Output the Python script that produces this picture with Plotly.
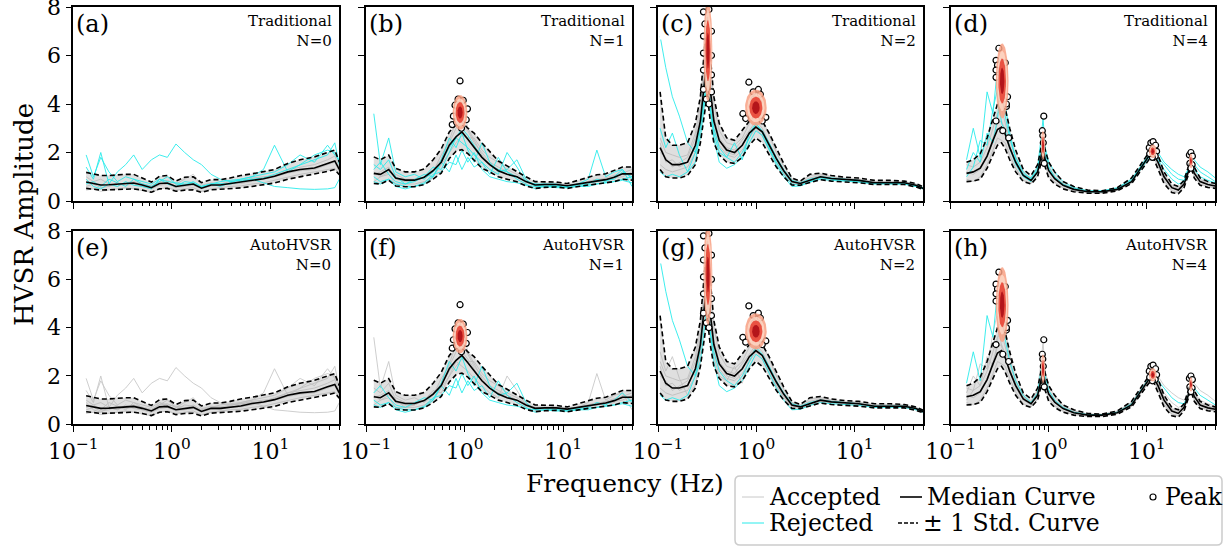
import numpy as np
import plotly.graph_objects as go

FONT = "DejaVu Serif"
W, H = 1228, 550

# ---------------- data ----------------
# Column A  (panels a / e)
fA = [0.135, 0.16, 0.19, 0.23, 0.28, 0.34, 0.41, 0.5, 0.62, 0.75, 0.9, 1.1, 1.35, 1.65, 2.0, 2.5, 3.1, 3.9, 5.0, 6.5, 8.5, 11, 15, 20, 28, 38, 45, 50]
medA = [0.78, 0.72, 0.66, 0.67, 0.70, 0.72, 0.74, 0.66, 0.55, 0.72, 0.74, 0.60, 0.66, 0.70, 0.53, 0.66, 0.66, 0.72, 0.76, 0.86, 0.92, 1.02, 1.2, 1.3, 1.36, 1.55, 1.65, 1.3]
upA = [1.18, 1.1, 1.05, 1.05, 1.08, 1.1, 1.1, 0.95, 0.78, 1.02, 1.05, 0.82, 0.98, 1.0, 0.76, 0.88, 0.88, 0.95, 1.05, 1.12, 1.2, 1.3, 1.55, 1.7, 1.82, 2.0, 2.1, 1.6]
loA = [0.52, 0.48, 0.45, 0.46, 0.48, 0.5, 0.5, 0.45, 0.36, 0.5, 0.52, 0.4, 0.45, 0.46, 0.35, 0.46, 0.48, 0.52, 0.54, 0.6, 0.68, 0.74, 0.9, 1.0, 1.1, 1.22, 1.3, 1.08]
wA1 = [1.4, 0.9, 2.0, 0.7, 1.2, 1.5, 1.9, 1.3, 1.7, 1.9, 1.8, 2.35, 2.0, 1.7, 1.5, 1.1, 0.9, 0.8, 0.85, 0.9, 0.95, 1.1, 1.3, 1.5, 1.7, 1.9, 2.4, 1.5]
wA2 = [0.9, 0.6, 0.5, 0.7, 0.6, 0.8, 0.65, 0.6, 0.5, 0.9, 0.7, 0.6, 0.8, 0.75, 0.55, 0.7, 0.72, 0.7, 0.8, 0.9, 0.75, 0.6, 0.55, 0.5, 0.48, 0.5, 0.55, 0.9]
wA3 = [0.7, 0.8, 0.6, 0.9, 0.75, 0.6, 0.9, 0.7, 0.6, 0.8, 1.0, 0.7, 0.65, 0.8, 0.6, 0.7, 0.6, 0.75, 0.9, 1.0, 1.3, 2.3, 1.2, 1.5, 1.9, 2.1, 2.0, 1.6]
wA4 = [0.6, 0.7, 0.55, 0.6, 0.75, 0.65, 0.7, 0.6, 0.5, 0.65, 0.7, 0.55, 0.6, 0.65, 0.5, 0.62, 0.65, 0.7, 0.72, 0.8, 0.9, 1.0, 1.15, 1.25, 1.3, 1.5, 1.6, 1.2]
wA5 = [1.0, 0.8, 0.9, 0.7, 0.6, 0.75, 0.8, 0.7, 0.62, 0.8, 0.85, 0.7, 0.9, 1.1, 0.65, 0.75, 0.7, 0.8, 0.85, 0.95, 1.0, 1.05, 1.3, 1.4, 1.5, 1.7, 1.85, 1.4]
wA6 = [0.45, 0.5, 0.4, 0.45, 0.5, 0.55, 0.5, 0.42, 0.35, 0.5, 0.55, 0.45, 0.5, 0.55, 0.4, 0.5, 0.55, 0.6, 0.62, 0.7, 0.75, 0.85, 1.0, 1.1, 1.2, 1.3, 1.35, 1.1]
wA7 = [1.9, 1.0, 1.8, 1.2, 0.8, 1.0, 0.9, 0.8, 0.7, 0.9, 0.8, 0.75, 0.7, 0.7, 0.6, 0.7, 0.8, 0.85, 0.9, 1.0, 1.1, 1.2, 1.5, 1.9, 1.6, 2.3, 1.9, 1.7]

# Column B  (panels b / f)
fB = [0.12, 0.14, 0.17, 0.2, 0.25, 0.31, 0.39, 0.48, 0.58, 0.7, 0.82, 0.94, 1.08, 1.25, 1.5, 1.8, 2.2, 2.7, 3.4, 4.2, 5.2, 6.5, 8.5, 11, 14, 18, 22, 27, 33, 40, 50]
medB = [1.14, 1.1, 1.3, 0.95, 0.86, 0.86, 0.98, 1.25, 1.6, 2.3, 2.65, 2.85, 2.55, 2.2, 1.8, 1.5, 1.25, 1.1, 1.0, 0.8, 0.66, 0.68, 0.68, 0.63, 0.7, 0.78, 0.85, 0.88, 0.98, 1.12, 1.12]
upB = [1.82, 1.7, 1.89, 1.35, 1.2, 1.2, 1.32, 1.7, 2.15, 2.85, 3.15, 3.26, 3.0, 2.8, 2.4, 2.05, 1.65, 1.45, 1.2, 1.0, 0.8, 0.8, 0.78, 0.72, 0.85, 0.98, 1.08, 1.12, 1.25, 1.4, 1.4]
loB = [0.72, 0.7, 0.86, 0.62, 0.59, 0.59, 0.68, 0.9, 1.15, 1.75, 2.05, 2.12, 1.95, 1.7, 1.35, 1.2, 1.0, 0.9, 0.79, 0.62, 0.52, 0.56, 0.58, 0.52, 0.6, 0.66, 0.7, 0.75, 0.8, 0.9, 0.86]
wB1 = [3.6, 1.5, 2.6, 1.2, 1.0, 1.1, 0.9, 1.2, 1.6, 2.2, 2.6, 3.0, 2.7, 2.3, 1.8, 1.5, 1.3, 1.2, 1.0, 0.8, 0.7, 0.7, 0.7, 0.6, 0.7, 0.9, 2.1, 1.0, 1.2, 1.3, 0.6]
wB2 = [1.0, 0.8, 0.9, 0.6, 0.5, 0.6, 0.7, 1.0, 1.6, 1.2, 1.9, 1.3, 1.8, 1.4, 1.6, 1.1, 1.8, 1.2, 0.9, 0.7, 0.5, 0.6, 0.55, 0.55, 0.6, 0.6, 0.7, 0.75, 0.8, 0.9, 1.0]
wB3 = [1.3, 1.6, 1.1, 0.8, 0.7, 0.9, 1.1, 1.0, 1.7, 2.6, 2.2, 2.8, 2.1, 1.6, 2.4, 1.6, 1.2, 1.3, 1.7, 0.9, 0.6, 0.7, 0.6, 0.6, 0.65, 0.7, 0.9, 0.8, 1.0, 1.3, 0.9]
wB4 = [1.1, 1.2, 1.4, 0.9, 0.8, 0.8, 1.0, 1.3, 1.7, 2.5, 3.3, 4.1, 3.0, 2.5, 1.9, 1.5, 1.3, 1.1, 1.0, 0.8, 0.65, 0.7, 0.7, 0.65, 0.7, 0.8, 0.9, 0.9, 1.0, 1.1, 1.1]
wB5 = [0.8, 1.0, 1.1, 0.7, 0.7, 0.7, 0.8, 1.0, 1.5, 2.0, 2.4, 2.7, 2.6, 2.6, 2.1, 1.8, 1.6, 1.3, 1.1, 0.85, 0.65, 0.65, 0.65, 0.6, 0.68, 0.75, 0.8, 0.85, 0.95, 1.0, 1.2]
wB6 = [1.5, 1.3, 1.7, 1.0, 0.7, 0.8, 1.0, 1.4, 1.3, 2.0, 2.6, 2.4, 2.2, 1.9, 1.6, 1.3, 1.1, 2.0, 1.4, 0.8, 0.7, 0.62, 0.65, 0.6, 0.7, 0.75, 0.8, 0.85, 0.9, 1.2, 1.0]
wB7 = [1.2, 1.0, 1.2, 1.1, 0.9, 0.9, 1.0, 1.2, 1.9, 2.4, 3.0, 3.4, 2.9, 2.4, 2.0, 1.6, 1.4, 1.2, 1.0, 0.75, 0.7, 0.7, 0.7, 0.62, 0.72, 0.8, 0.85, 0.95, 1.05, 1.15, 1.3]
wB8 = [0.8, 0.7, 0.9, 0.7, 0.6, 0.6, 0.75, 1.1, 1.2, 1.6, 1.5, 2.1, 1.6, 2.0, 1.3, 1.0, 0.9, 0.8, 0.75, 0.65, 0.6, 0.6, 0.6, 0.55, 0.6, 0.65, 0.7, 0.75, 0.8, 0.85, 0.75]

# Column C  (panels c / g)
fC = [0.105, 0.12, 0.14, 0.165, 0.2, 0.24, 0.27, 0.295, 0.317, 0.34, 0.37, 0.42, 0.5, 0.6, 0.72, 0.85, 0.99, 1.15, 1.35, 1.6, 1.9, 2.3, 2.8, 3.5, 4.5, 5.8, 8, 11, 16, 23, 32, 42, 50]
medC = [2.2, 1.7, 1.5, 1.5, 1.6, 2.3, 3.3, 4.8, 6.0, 4.6, 3.3, 2.5, 2.1, 2.0, 2.3, 2.8, 3.05, 2.85, 2.3, 1.75, 1.25, 0.8, 0.72, 0.85, 1.0, 0.93, 0.88, 0.85, 0.75, 0.75, 0.75, 0.65, 0.52]
upC = [4.5, 2.6, 2.3, 2.3, 2.4, 3.2, 4.3, 6.2, 7.6, 6.0, 4.3, 3.2, 2.6, 2.5, 2.9, 3.3, 3.55, 3.3, 2.8, 2.15, 1.55, 0.95, 0.82, 1.1, 1.15, 1.05, 0.98, 0.95, 0.85, 0.85, 0.82, 0.72, 0.58]
loC = [1.3, 1.0, 0.95, 0.95, 1.05, 1.5, 2.4, 3.4, 4.4, 3.3, 2.4, 1.9, 1.6, 1.55, 1.8, 2.3, 2.6, 2.4, 1.9, 1.4, 1.0, 0.66, 0.65, 0.75, 0.88, 0.82, 0.8, 0.75, 0.68, 0.68, 0.68, 0.58, 0.47]
wC1 = [6.8, 5.5, 4.3, 3.5, 2.4, 2.0, 2.6, 4.0, 5.0, 3.8, 3.0, 2.2, 1.8, 1.6, 2.0, 2.6, 3.2, 2.9, 2.4, 1.8, 1.3, 0.85, 0.75, 0.9, 1.0, 0.95, 0.9, 0.85, 0.75, 0.75, 0.75, 0.65, 0.55]
wC2 = [3.0, 2.2, 2.8, 1.9, 1.2, 1.6, 3.0, 4.2, 5.5, 4.0, 2.8, 2.0, 1.8, 2.4, 1.7, 2.8, 3.2, 2.8, 2.2, 1.6, 1.1, 0.7, 0.65, 0.8, 0.95, 0.9, 0.85, 0.8, 0.72, 0.72, 0.7, 0.6, 0.5]
wC3 = [2.0, 1.8, 1.4, 1.6, 1.8, 2.6, 3.6, 5.5, 7.2, 5.0, 3.5, 2.6, 2.2, 2.1, 2.5, 2.9, 3.3, 3.0, 2.4, 1.8, 1.3, 0.85, 0.78, 0.95, 1.05, 0.95, 0.9, 0.85, 0.78, 0.78, 0.77, 0.66, 0.52]
wC4 = [1.5, 1.3, 1.2, 1.3, 1.4, 2.0, 3.0, 4.5, 5.8, 4.4, 3.0, 2.3, 1.9, 1.8, 2.1, 2.6, 3.0, 2.7, 2.1, 1.6, 1.15, 0.75, 0.7, 0.82, 0.98, 0.9, 0.86, 0.83, 0.74, 0.74, 0.74, 0.64, 0.52]
wC5 = [2.6, 2.0, 1.9, 1.8, 1.9, 2.8, 3.9, 6.0, 7.8, 6.2, 4.0, 2.9, 2.4, 2.3, 2.6, 3.2, 3.6, 3.4, 2.7, 2.0, 1.45, 0.9, 0.8, 1.05, 1.1, 1.0, 0.92, 0.9, 0.8, 0.8, 0.8, 0.7, 0.55]
wC6 = [2.4, 1.6, 1.7, 1.4, 1.6, 2.2, 3.1, 4.6, 6.3, 4.8, 3.4, 2.5, 2.0, 1.9, 2.3, 2.8, 3.1, 2.9, 2.3, 1.7, 1.25, 0.8, 0.72, 0.88, 1.0, 0.92, 0.88, 0.85, 0.76, 0.76, 0.75, 0.65, 0.52]
wC7 = [1.2, 1.0, 1.1, 1.0, 1.2, 2.0, 3.2, 4.6, 6.0, 3.8, 2.6, 1.6, 1.35, 1.5, 1.8, 2.4, 2.9, 2.7, 2.1, 1.5, 1.0, 0.6, 0.62, 0.78, 0.9, 0.85, 0.82, 0.78, 0.7, 0.7, 0.7, 0.6, 0.5]

# Column D  (panels d / h)
fD = [0.145, 0.17, 0.2, 0.235, 0.27, 0.3, 0.33, 0.36, 0.4, 0.46, 0.55, 0.66, 0.77, 0.83, 0.875, 0.92, 1.0, 1.15, 1.4, 1.8, 2.5, 3.5, 5, 7, 9, 10.5, 11.6, 13, 15, 18, 21, 24, 26.5, 28.2, 30.5, 35, 42, 50]
medD = [1.14, 1.2, 1.35, 1.85, 2.5, 2.95, 3.05, 2.75, 2.2, 1.6, 1.05, 0.85, 1.2, 1.8, 2.2, 1.7, 1.25, 0.92, 0.65, 0.48, 0.38, 0.38, 0.48, 0.8, 1.45, 1.85, 1.96, 1.6, 1.0, 0.55, 0.45, 0.7, 1.2, 1.55, 1.15, 0.8, 0.68, 0.62]
upD = [1.6, 1.7, 1.95, 2.6, 3.4, 4.0, 4.2, 3.8, 3.0, 2.1, 1.3, 1.05, 1.5, 2.2, 2.6, 2.1, 1.6, 1.2, 0.8, 0.6, 0.45, 0.42, 0.55, 0.95, 1.6, 2.0, 2.15, 1.9, 1.2, 0.7, 0.6, 0.85, 1.4, 1.8, 1.4, 0.95, 0.8, 0.72]
loD = [0.8, 0.82, 0.9, 1.35, 1.9, 2.3, 2.4, 2.15, 1.7, 1.2, 0.8, 0.7, 1.0, 1.5, 1.9, 1.4, 0.95, 0.7, 0.5, 0.38, 0.32, 0.32, 0.42, 0.72, 1.3, 1.7, 1.8, 1.35, 0.72, 0.35, 0.3, 0.55, 1.05, 1.4, 0.95, 0.65, 0.56, 0.52]
wD1 = [1.7, 3.0, 1.8, 4.5, 3.6, 5.5, 4.8, 3.5, 2.6, 1.8, 1.2, 0.9, 1.3, 2.2, 2.8, 2.0, 1.4, 1.0, 0.7, 0.5, 0.4, 0.4, 0.5, 0.85, 1.5, 1.9, 2.1, 1.8, 1.5, 1.1, 0.9, 0.85, 1.2, 1.8, 1.5, 1.2, 1.0, 0.8]
wD2 = [1.0, 1.4, 2.5, 2.3, 3.8, 4.6, 3.2, 2.9, 2.2, 1.5, 1.0, 0.8, 1.2, 1.9, 2.4, 1.8, 1.3, 0.95, 0.65, 0.5, 0.38, 0.38, 0.5, 0.8, 1.4, 1.8, 2.0, 1.7, 1.3, 0.9, 0.7, 0.8, 1.3, 1.7, 1.3, 1.0, 0.85, 0.75]
wD3 = [1.2, 1.1, 1.3, 1.8, 2.6, 3.2, 3.3, 2.9, 2.3, 1.6, 1.05, 0.85, 1.2, 1.8, 2.3, 1.7, 1.25, 0.9, 0.65, 0.48, 0.38, 0.38, 0.48, 0.8, 1.45, 1.85, 2.0, 1.6, 1.0, 0.55, 0.45, 0.7, 1.2, 1.6, 1.15, 0.8, 0.68, 0.62]
wD4 = [1.5, 1.4, 1.6, 2.2, 3.0, 3.6, 3.8, 3.2, 2.5, 1.8, 1.15, 0.9, 1.3, 2.0, 2.6, 1.9, 1.4, 1.0, 0.72, 0.52, 0.4, 0.4, 0.52, 0.88, 1.55, 1.95, 2.1, 1.75, 1.1, 0.62, 0.52, 0.78, 1.3, 1.75, 1.25, 0.88, 0.75, 0.68]
wD5 = [0.9, 0.8, 1.0, 1.5, 2.1, 2.6, 2.5, 2.4, 1.9, 1.35, 0.85, 0.72, 1.05, 1.6, 2.0, 1.5, 1.05, 0.78, 0.55, 0.4, 0.33, 0.33, 0.44, 0.74, 1.35, 1.75, 1.85, 1.45, 0.85, 0.42, 0.35, 0.6, 1.1, 1.45, 1.0, 0.7, 0.6, 0.55]
wD6 = [1.3, 2.0, 1.6, 2.8, 2.4, 3.4, 5.0, 4.0, 2.8, 1.7, 1.1, 0.95, 1.4, 2.5, 3.4, 2.2, 1.6, 1.2, 0.8, 0.55, 0.42, 0.42, 0.55, 0.9, 1.5, 1.9, 2.2, 2.0, 1.6, 1.3, 1.1, 1.0, 1.3, 1.9, 1.7, 1.4, 1.2, 0.95]

# Peak picks (frequency, amplitude)
pkB_f = [0.90, 0.77, 0.75, 0.80, 0.86, 0.97, 1.07, 1.04, 0.90, 0.92, 0.88, 0.95, 0.83, 0.93, 0.89]
pkB_a = [4.95, 3.5, 3.15, 3.95, 4.2, 4.15, 3.8, 3.35, 3.4, 3.7, 3.65, 3.55, 3.25, 3.0, 3.9]
pkC_f = [0.29, 0.33, 0.29, 0.29, 0.35, 0.29, 0.35, 0.29, 0.35, 0.31, 0.33, 0.30, 0.35,
         0.84, 0.93, 1.05, 1.10, 0.95, 1.0, 0.97, 1.02, 0.73, 0.78, 1.25, 1.15, 0.90, 1.05]
pkC_a = [7.8, 7.9, 6.8, 6.1, 6.0, 5.4, 5.2, 4.6, 4.5, 4.2, 4.0, 7.3, 7.0,
         4.9, 4.5, 4.6, 4.4, 4.2, 4.0, 3.85, 3.7, 3.6, 3.4, 3.45, 3.3, 3.9, 4.1]
pkD_f = [0.31, 0.29, 0.30, 0.36, 0.29, 0.29, 0.38, 0.37, 0.29, 0.34, 0.39, 0.37,
         0.89, 0.86, 0.88, 0.90, 0.87,
         10.6, 11.0, 11.6, 12.3, 12.6, 12.2, 11.4, 10.7, 11.3,
         27.2, 28.2, 29.2, 27.5, 29.0, 28.2]
pkD_a = [6.3, 5.8, 5.6, 5.7, 5.4, 5.1, 4.3, 3.9, 3.3, 2.9, 2.6, 4.0,
         3.5, 2.9, 2.4, 1.55, 2.7,
         2.2, 2.4, 2.45, 2.3, 2.05, 1.85, 1.8, 1.95, 2.1,
         1.9, 2.0, 1.85, 1.55, 1.5, 1.35]

# Peak density ellipses: centre freq, centre amp, half-width (log10 f), half-height (amp)
ellB = dict(fc=[0.9], ac=[3.65], wl=[0.075], ha=[0.72])
ellC = dict(fc=[0.322, 0.99], ac=[6.2, 3.85], wl=[0.045, 0.11], ha=[2.1, 0.75])
ellD = dict(fc=[0.335, 0.875, 11.5, 28.2], ac=[4.95, 2.3, 2.05, 1.65], wl=[0.065, 0.022, 0.04, 0.02], ha=[1.55, 0.6, 0.28, 0.3])
ell_levels = [1.0, 0.8, 0.6, 0.35]

x_tick_vals = [0.1, 1, 10]
x_tick_text = ["10<sup>−1</sup>", "10<sup>0</sup>", "10<sup>1</sup>"]
y_tick_vals = [0, 2, 4, 6, 8]

columns = [
    dict(f=fA, med=medA, up=upA, lo=loA, wins=[wA1, wA2, wA3, wA4, wA5, wA6, wA7],
         rej_trad=[0, 1, 2, 6], rej_auto=[], N=0, pf=[], pa=[], ell=None),
    dict(f=fB, med=medB, up=upB, lo=loB, wins=[wB1, wB2, wB3, wB4, wB5, wB6, wB7, wB8],
         rej_trad=[0, 1, 2, 5, 7], rej_auto=[1, 2, 7], N=1, pf=pkB_f, pa=pkB_a, ell=ellB),
    dict(f=fC, med=medC, up=upC, lo=loC, wins=[wC1, wC2, wC3, wC4, wC5, wC6, wC7],
         rej_trad=[0, 1, 6], rej_auto=[0, 6], N=2, pf=pkC_f, pa=pkC_a, ell=ellC),
    dict(f=fD, med=medD, up=upD, lo=loD, wins=[wD1, wD2, wD3, wD4, wD5, wD6],
         rej_trad=[0, 1, 5], rej_auto=[0], N=4, pf=pkD_f, pa=pkD_a, ell=ellD),
]
labels = ["(a)", "(b)", "(c)", "(d)", "(e)", "(f)", "(g)", "(h)"]
methods = ["Traditional", "AutoHVSR"]

# ---------------- layout geometry (pixels) ----------------
col_px = [(73.3, 339.3), (366.0, 632.0), (658.0, 923.3), (950.7, 1215.3)]
row_px = [(7.0, 201.0), (231.0, 424.3)]


def px(x):
    return x / W


def py(y):
    return 1 - y / H


fig = go.Figure()
layout = dict(template="none", width=W, height=H, margin=dict(l=0, r=0, t=0, b=0, autoexpand=False),
              paper_bgcolor="white", plot_bgcolor="white", showlegend=False,
              font=dict(family=FONT, color="black"))
annotations = []
shapes = []

minor_vals = [v * d for d in (0.1, 1, 10) for v in range(2, 10)]
ell_colors = ["rgba(248,160,130,0.85)", "rgba(253,225,210,0.7)", "rgba(230,60,45,0.85)", "rgba(170,10,20,0.85)"]

for r in range(2):
    for c in range(4):
        i = r * 4 + c
        ax = i + 1
        xa = "x" if ax == 1 else f"x{ax}"
        ya = "y" if ax == 1 else f"y{ax}"
        col = columns[c]
        f = col["f"]
        rej = col["rej_trad"] if r == 0 else col["rej_auto"]
        # accepted windows
        for k, wv in enumerate(col["wins"]):
            if k in rej:
                continue
            fig.add_trace(go.Scatter(x=f, y=wv, mode="lines", xaxis=xa, yaxis=ya,
                                     line=dict(color="rgb(200,200,200)", width=0.9), hoverinfo="skip"))
        # density band of accepted windows
        fig.add_trace(go.Scatter(x=f, y=col["lo"], mode="lines", xaxis=xa, yaxis=ya,
                                 line=dict(width=0), hoverinfo="skip"))
        fig.add_trace(go.Scatter(x=f, y=col["up"], mode="lines", xaxis=xa, yaxis=ya, fill="tonexty",
                                 fillcolor="rgba(175,175,175,0.4)", line=dict(width=0), hoverinfo="skip"))
        # rejected windows
        for k in rej:
            fig.add_trace(go.Scatter(x=f, y=col["wins"][k], mode="lines", xaxis=xa, yaxis=ya,
                                     line=dict(color="rgb(40,235,235)", width=0.9), hoverinfo="skip"))
        # median and std curves
        fig.add_trace(go.Scatter(x=f, y=col["med"], mode="lines", xaxis=xa, yaxis=ya,
                                 line=dict(color="black", width=1.6), hoverinfo="skip"))
        for arr in (col["up"], col["lo"]):
            fig.add_trace(go.Scatter(x=f, y=arr, mode="lines", xaxis=xa, yaxis=ya,
                                     line=dict(color="black", width=1.6, dash="5px,3px"), hoverinfo="skip"))
        # peaks
        if col["pf"]:
            fig.add_trace(go.Scatter(x=col["pf"], y=col["pa"], mode="markers", xaxis=xa, yaxis=ya,
                                     marker=dict(symbol="circle", size=6, color="white",
                                                 line=dict(color="black", width=1.2)), hoverinfo="skip"))
        # peak density ellipses (over the peaks)
        if col["ell"] is not None:
            e = col["ell"]
            t = np.linspace(0, 2 * np.pi, 80)
            for j in range(len(e["fc"])):
                for lv, clr in zip(ell_levels, ell_colors):
                    ex = 10 ** (np.log10(e["fc"][j]) + lv * e["wl"][j] * np.cos(t))
                    ey = e["ac"][j] + lv * e["ha"][j] * np.sin(t)
                    fig.add_trace(go.Scatter(x=ex, y=ey, mode="lines", fill="toself", fillcolor=clr,
                                             xaxis=xa, yaxis=ya, line=dict(width=0), hoverinfo="skip"))

        xdom = [px(col_px[c][0]), px(col_px[c][1])]
        ydom = [py(row_px[r][1]), py(row_px[r][0])]
        layout["xaxis" if ax == 1 else f"xaxis{ax}"] = dict(
            type="log", domain=xdom, anchor=ya, range=[-1, np.log10(50)], automargin=False,
            showline=True, linecolor="black", linewidth=1.6, mirror=True,
            ticks="outside", ticklen=6, tickwidth=1.3, tickcolor="black",
            tickvals=x_tick_vals, ticktext=x_tick_text, showticklabels=(r == 1),
            ticklabeloverflow="allow",
            tickfont=dict(family=FONT, size=22, color="black"),
            minor=dict(tickvals=minor_vals, ticks="outside", ticklen=3.5, tickwidth=1, tickcolor="black",
                       showgrid=False),
            showgrid=False, zeroline=False)
        layout["yaxis" if ax == 1 else f"yaxis{ax}"] = dict(
            domain=ydom, anchor=xa, range=[0, 8], automargin=False,
            showline=True, linecolor="black", linewidth=1.6, mirror=True,
            ticks="outside", ticklen=6, tickwidth=1.3, tickcolor="black",
            tickvals=y_tick_vals, showticklabels=(c == 0), ticklabeloverflow="allow",
            tickfont=dict(family=FONT, size=22, color="black"),
            showgrid=False, zeroline=False)

        annotations.append(dict(xref="paper", yref="paper", x=xdom[0], y=ydom[1], xanchor="left", yanchor="top",
                                xshift=1, yshift=-1, text=labels[i], showarrow=False, bgcolor="white", borderpad=1,
                                font=dict(family=FONT, size=24, color="black")))
        annotations.append(dict(xref="paper", yref="paper", x=xdom[1], y=ydom[1], xanchor="right", yanchor="top",
                                xshift=-5, yshift=-3, text=f"{methods[r]}<br>N={col['N']}", showarrow=False,
                                align="right", font=dict(family=FONT, size=15, color="black")))

# axis titles
annotations.append(dict(xref="paper", yref="paper", x=px(24), y=py(215), xanchor="center", yanchor="middle",
                        text="HVSR Amplitude", textangle=-90,
                        showarrow=False, font=dict(family=FONT, size=26, color="black")))
annotations.append(dict(xref="paper", yref="paper", x=px(625), y=py(483), xanchor="center", yanchor="middle",
                        text="Frequency (Hz)",
                        showarrow=False, font=dict(family=FONT, size=25, color="black")))

# manual legend
lx0, lx1, ly0, ly1, rr = 735, 1222, 476, 545, 5
path = (f"M {px(lx0 + rr)} {py(ly0)} L {px(lx1 - rr)} {py(ly0)} Q {px(lx1)} {py(ly0)} {px(lx1)} {py(ly0 + rr)} "
        f"L {px(lx1)} {py(ly1 - rr)} Q {px(lx1)} {py(ly1)} {px(lx1 - rr)} {py(ly1)} "
        f"L {px(lx0 + rr)} {py(ly1)} Q {px(lx0)} {py(ly1)} {px(lx0)} {py(ly1 - rr)} "
        f"L {px(lx0)} {py(ly0 + rr)} Q {px(lx0)} {py(ly0)} {px(lx0 + rr)} {py(ly0)} Z")
shapes.append(dict(type="path", xref="paper", yref="paper", path=path, fillcolor="white",
                   line=dict(color="rgb(204,204,204)", width=1.5)))
row1, row2 = 497, 523
shapes.append(dict(type="line", xref="paper", yref="paper", x0=px(742), x1=px(764), y0=py(row1), y1=py(row1),
                   line=dict(color="rgb(200,200,200)", width=1)))
shapes.append(dict(type="line", xref="paper", yref="paper", x0=px(742), x1=px(764), y0=py(row2), y1=py(row2),
                   line=dict(color="rgb(40,235,235)", width=1)))
shapes.append(dict(type="line", xref="paper", yref="paper", x0=px(900), x1=px(922), y0=py(row1), y1=py(row1),
                   line=dict(color="black", width=1.6)))
shapes.append(dict(type="line", xref="paper", yref="paper", x0=px(898), x1=px(918), y0=py(row2), y1=py(row2),
                   line=dict(color="black", width=1.6, dash="4px,2px")))
shapes.append(dict(type="circle", xref="paper", yref="paper", x0=px(1150), x1=px(1156), y0=py(row1 - 3),
                   y1=py(row1 + 3), line=dict(color="black", width=1.2), fillcolor="white"))
for txt, xx, yy in [("Accepted", 767, row1), ("Rejected", 767, row2), ("Median Curve", 925, row1),
                    ("± 1 Std. Curve", 921, row2), ("Peak", 1163, row1)]:
    annotations.append(dict(xref="paper", yref="paper", x=px(xx), y=py(yy), xanchor="left", yanchor="middle",
                            text=txt, showarrow=False, font=dict(family=FONT, size=23.5, color="black")))

layout["annotations"] = annotations
layout["shapes"] = shapes
fig.update_layout(**layout)
fig.write_html("out.html", config={"displayModeBar": False},
               post_script="document.body.style.margin='0px';document.body.style.padding='0px';"
                           "document.body.style.overflow='hidden';")
